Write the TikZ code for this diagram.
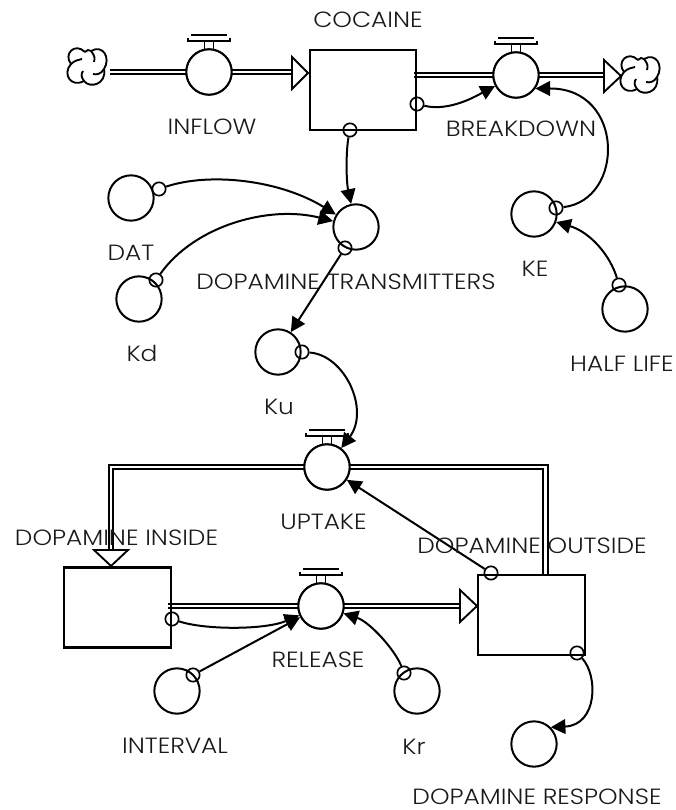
\documentclass[tikz,border=0pt]{standalone}
\usepackage{fontspec}
\setmainfont{Poppins}[UprightFont=* Light,FakeStretch=1.13]
\usetikzlibrary{arrows.meta}
\tikzset{
  lab/.style={inner sep=0pt,font=\fontsize{16.5}{18}\selectfont,text=black!90},
  conv/.style={circle,draw,minimum size=34pt,inner sep=0pt,fill=white,line width=1.5pt},
  stock/.style={draw,minimum width=80pt,minimum height=60pt,inner sep=0pt,line width=1.6pt},
  origin/.style={circle,draw,minimum size=10pt,inner sep=0pt,line width=1.25pt},
  link/.style={-{Triangle[length=11pt,width=11pt]},line width=1.5pt},
  flowhead/.style={line width=1.4pt,fill=white,line join=miter},
}
\newcommand{\valvetop}[1]{%
  \begin{scope}[shift={(#1)},line width=1.4pt]
    \draw (-4.5,-21) -- (-4.5,-31) (4.5,-21) -- (4.5,-31);
    \draw (-21,-34) -- (-21,-31) -- (21,-31) -- (21,-34);
    \draw (-18,-37) -- (18,-37);
  \end{scope}}
\newcommand{\puff}[1]{%
  \begin{scope}[shift={(#1)},line width=1.4pt]
   \draw (-2,-14) .. controls (-12,-24) and (-24,-12) .. (-16,-2)
     .. controls (-25,8) and (-16,22) .. (-3,15)
     .. controls (3,23) and (20,18) .. (17,3)
     .. controls (24,-8) and (16,-22) .. (4,-15)
     .. controls (2,-17) and (0,-16) .. (-2,-14);
   \draw (-16,-2) .. controls (-12,-6) and (-8,-6) .. (-5,-7);
   \draw (4,-15) .. controls (8,-10) and (8,-8) .. (7,-4);
   \draw (17,3) .. controls (14,8) and (10,9) .. (6,8);
   \draw (-3,15) .. controls (-6,11) and (-6,8) .. (-4,5);
  \end{scope}}
\newcommand{\dflow}[1]{%
  \draw[line width=5.2pt,line join=miter] #1;
  \draw[line width=2pt,white,line join=miter] #1;
}
\begin{document}
\begin{tikzpicture}[x=0.75pt,y=-0.75pt]
\useasboundingbox (0,0) rectangle (675,810);
% valves and flow end points
\node[conv] (inflow) at (209,72) {};
\node[conv] (breakdown) at (516,75) {};
\node[conv] (uptake) at (327,467) {};
\node[conv] (release) at (321,606) {};
\coordinate (srcout) at (110,72);
\coordinate (h1) at (293,72);
\coordinate (b0) at (414,75);
\coordinate (h2) at (605,75);
\coordinate (h3) at (111,551);
\coordinate (top4) at (545.5,576);
\coordinate (r0) at (168,606);
\coordinate (h4) at (461,606);
\dflow{(srcout) -- (h1)}
\dflow{(b0) -- (h2)}
\dflow{(uptake.center) -| (h3)}
\dflow{(uptake.center) -| (top4)}
\dflow{(r0) -- (h4)}
% stocks
\node[stock] (cocaine) at (363,90) {};
\node[stock] (dinside) at (117.5,607.5) {};
\node[stock] (doutside) at (531.5,615) {};
% flow heads
\draw[flowhead] (292,57) -- (308,73) -- (292,89) -- cycle;
\draw[flowhead] (604,60) -- (621,76) -- (604,92) -- cycle;
\draw[flowhead] (94,550) -- (111,566) -- (128,550) -- cycle;
\draw[flowhead] (460,590) -- (477,606) -- (460,622) -- cycle;
\foreach \n in {inflow,breakdown,uptake,release}{\node[conv] at (\n) {};\valvetop{\n}}
\puff{87,66}
\puff{640,74}
% converters
\node[conv] (dat) at (131,198) {};
\node[conv] (kd) at (139,299) {};
\node[conv] (dt) at (356,227) {};
\node[conv] (ke) at (534,214) {};
\node[conv] (half) at (625,309) {};
\node[conv] (ku) at (278,352) {};
\node[conv] (interval) at (177,691) {};
\node[conv] (kr) at (417,691) {};
\node[conv] (resp) at (534,744) {};
% origins
\node[origin] (o1) at (417,104) {};
\node[origin] (o2) at (350,130) {};
\node[origin] (o3) at (159,189) {};
\node[origin] (o4) at (156,280) {};
\node[origin] (o5) at (345,248) {};
\node[origin] (o6) at (556,208) {};
\node[origin] (o7) at (619,285) {};
\node[origin] (o8) at (302,352) {};
\node[origin] (o9) at (491,573) {};
\node[origin] (o10) at (172,619) {};
\node[origin] (o11) at (193,675) {};
\node[origin] (o12) at (404,673) {};
\node[origin] (o13) at (577,653) {};
% connectors
\draw[link] (o1) .. controls (450,112) and (478,95) .. (breakdown);
\draw[link] (o2) .. controls (346,150) and (346,180) .. (dt);
\draw[link] (o3) .. controls (210,172) and (280,180) .. (dt);
\draw[link] (o4) .. controls (195,225) and (270,205) .. (dt);
\draw[link] (o5) -- (ku);
\draw[link] (o6) .. controls (625,200) and (625,88) .. (breakdown.-35);
\draw[link] (o7) .. controls (610,255) and (590,232) .. (ke.-20);
\draw[link] (o8) .. controls (345,355) and (370,410) .. (uptake);
\draw[link] (o9) -- (uptake);
\draw[link] (o10) .. controls (205,630) and (265,630) .. (release);
\draw[link] (o11) -- (release);
\draw[link] (o12) .. controls (395,650) and (370,622) .. (release);
\draw[link] (o13) .. controls (598,675) and (598,725) .. (resp.45);
% labels
\node[lab] at (368,20) {COCAINE};
\node[lab] at (212,127) {INFLOW};
\node[lab] at (521,129) {BREAKDOWN};
\node[lab] at (131,253) {DAT};
\node[lab] at (346,282) {DOPAMINE TRANSMITTERS};
\node[lab] at (535,269) {KE};
\node[lab] at (622,364) {HALF LIFE};
\node[lab] at (142,353) {Kd};
\node[lab] at (279,407) {Ku};
\node[lab] at (323.5,522) {UPTAKE};
\node[lab] at (116.5,538) {DOPAMINE INSIDE};
\node[lab] at (532,546) {DOPAMINE OUTSIDE};
\node[lab] at (318,660) {RELEASE};
\node[lab] at (175,746) {INTERVAL};
\node[lab] at (414,747) {Kr};
\node[lab] at (537,797) {DOPAMINE RESPONSE};
\end{tikzpicture}
\end{document}
